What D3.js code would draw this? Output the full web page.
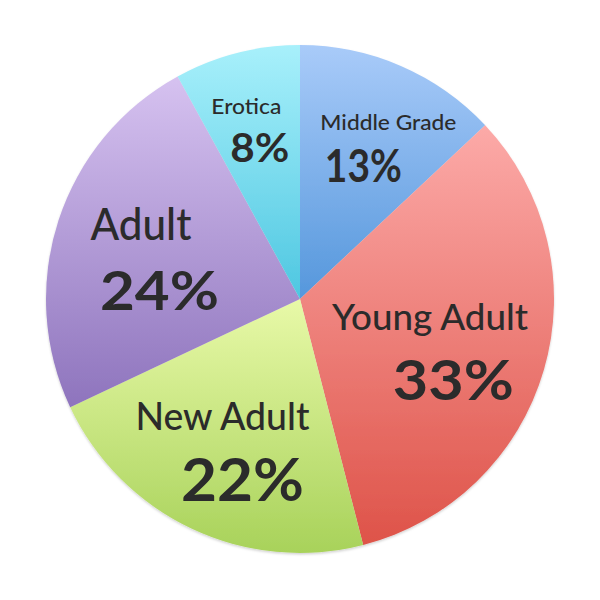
<!DOCTYPE html>
<html>
<head>
<meta charset="utf-8">
<script src="https://cdn.jsdelivr.net/npm/d3@7"></script>
<style>
  html, body { margin: 0; padding: 0; background: #ffffff; }
  svg { display: block; }
  text { font-family: Lato, "Open Sans", sans-serif; fill: #2b2b2b; }
</style>
</head>
<body>
<svg id="chart" width="600" height="600"></svg>
<script>
// ---- data ----
const categories = ["Middle Grade", "Young Adult", "New Adult", "Adult", "Erotica"];
const values = [13, 33, 22, 24, 8];
const percentLabels = ["13%", "33%", "22%", "24%", "8%"];

// ---- styling / layout (not data) ----
const colorTop    = ["#a9cbf9", "#fcaaa8", "#e8f9a8", "#d6c2f0", "#a8f0fb"];
const colorBottom = ["#5597dc", "#de5349", "#a8d25a", "#8e74bd", "#4ec7e1"];
// label layout: offsets from the arc label centroid, font sizes and fitted widths
const nameDX   = [22.8, -28.4, -7.3, -2.1, -12.7];
const nameDY   = [-17.6, -15, -18.3, -8, -25.2];
const nameSize = [21, 37, 39, 44, 22];
const nameLen  = [136, 196, 174, 101, 70];
const pctDX    = [-2.2, -5.1, 12.7, 16.4, 0.8];
const pctDY    = [34.1, 55, 52.4, 62, 22.5];
const pctSize  = [45, 56, 59, 54, 40];
const pctLen   = [77, 121, 123, 119, 59];

const cx = 300, cy = 299, R = 254, labelR = 165;

const svg = d3.select("#chart");
const defs = svg.append("defs");

const shadow = defs.append("filter").attr("id", "shadow")
  .attr("x", "-10%").attr("y", "-10%").attr("width", "120%").attr("height", "120%");
shadow.append("feDropShadow").attr("dx", 0).attr("dy", 1.5)
  .attr("stdDeviation", 1.2).attr("flood-color", "#000").attr("flood-opacity", 0.18);

categories.forEach((c, i) => {
  const g = defs.append("linearGradient").attr("id", "grad" + i)
    .attr("x1", 0).attr("y1", 0).attr("x2", 0).attr("y2", 1);
  g.append("stop").attr("offset", "0%").attr("stop-color", colorTop[i]);
  g.append("stop").attr("offset", "100%").attr("stop-color", colorBottom[i]);
});

const pie = d3.pie().sort(null).value(d => d.value);
const arcs = pie(categories.map((c, i) => ({ name: c, value: values[i], label: percentLabels[i], i })));

const arc = d3.arc().innerRadius(0).outerRadius(R);
const labelArc = d3.arc().innerRadius(labelR).outerRadius(labelR);

const root = svg.append("g").attr("transform", `translate(${cx},${cy})`);

root.append("g").attr("filter", "url(#shadow)")
  .selectAll("path").data(arcs).join("path")
  .attr("d", arc)
  .attr("fill", d => `url(#grad${d.data.i})`);

const labels = root.append("g").selectAll("g").data(arcs).join("g")
  .attr("transform", d => { const [x, y] = labelArc.centroid(d); return `translate(${x},${y})`; });

labels.append("text")
  .attr("x", d => nameDX[d.data.i])
  .attr("y", d => nameDY[d.data.i])
  .attr("text-anchor", "middle")
  .attr("font-size", d => nameSize[d.data.i])
  .attr("font-weight", 500)
  .attr("textLength", d => nameLen[d.data.i])
  .attr("lengthAdjust", "spacingAndGlyphs")
  .text(d => d.data.name);

labels.append("text")
  .attr("x", d => pctDX[d.data.i])
  .attr("y", d => pctDY[d.data.i])
  .attr("text-anchor", "middle")
  .attr("font-size", d => pctSize[d.data.i])
  .attr("font-weight", 700)
  .attr("textLength", d => pctLen[d.data.i])
  .attr("lengthAdjust", "spacingAndGlyphs")
  .text(d => d.data.label);
</script>
</body>
</html>
